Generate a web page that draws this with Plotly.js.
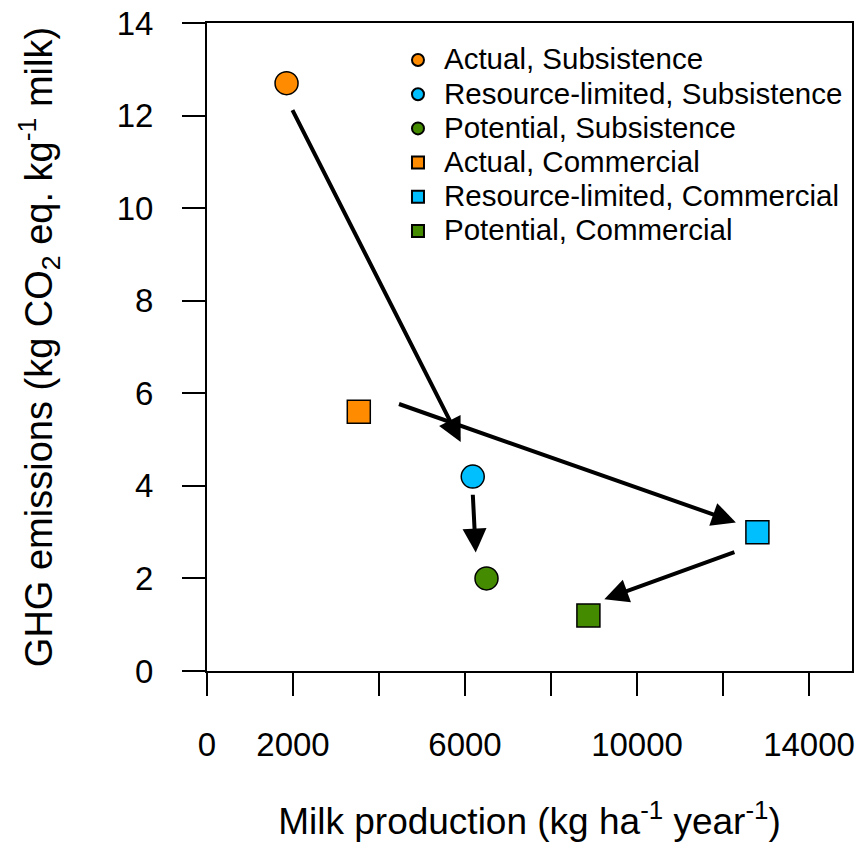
<!DOCTYPE html>
<html><head><meta charset="utf-8">
<script src="https://cdn.plot.ly/plotly-3.0.1.min.js"></script>
<style>html,body{margin:0;padding:0;background:#fff}#chart{width:867px;height:845px}</style>
</head><body><div id="chart"></div>
<script>
const seriesNames = ['Actual, Subsistence','Resource-limited, Subsistence','Potential, Subsistence',
  'Actual, Commercial','Resource-limited, Commercial','Potential, Commercial'];
const milkProduction = [1850, 6180, 6500, 3530, 12800, 8870];
const ghgEmissions = [12.7, 4.2, 2.0, 5.6, 3.0, 1.2];
const markerSymbols = ['circle','circle','circle','square','square','square'];
const markerColors = ['#FF8C00','#00BFFF','#458B00','#FF8C00','#00BFFF','#458B00'];
const arrowFromX = [1970, 4430, 6180, 12300];
const arrowFromY = [12.15, 5.78, 3.84, 2.58];
const arrowToX = [5900, 12300, 6250, 9240];
const arrowToY = [4.95, 3.21, 2.56, 1.55];
const xTickVals = [0, 2000, 6000, 10000, 14000];
const xTickText = ['0', '2000', '6000', '10000', '14000'];
const xMinorTickVals = [4000, 8000, 12000];
const yTickVals = [0, 2, 4, 6, 8, 10, 12, 14];
const yTickText = ['0', '2', '4', '6', '8', '10', '12', '14'];

const FONT = 'Liberation Sans, Arial, Helvetica, sans-serif';

const traces = seriesNames.map((name, i) => ({
  type: 'scatter', mode: 'markers',
  x: [milkProduction[i]], y: [ghgEmissions[i]],
  name: '<span style="font-size:29.5px">' + name + '</span>',
  legendgroup: 'g' + i,
  marker: {symbol: markerSymbols[i], color: markerColors[i], size: 23, line: {color: '#000', width: 1.5}},
  hoverinfo: 'x+y'
}));

const annotations = arrowFromX.map((fx, i) => ({
  x: arrowToX[i], y: arrowToY[i], ax: fx, ay: arrowFromY[i],
  xref: 'x', yref: 'y', axref: 'x', ayref: 'y',
  text: '', showarrow: true, arrowhead: 2, arrowsize: 1.2, arrowwidth: 4, arrowcolor: '#000', standoff: 0
}));

const axisCommon = {
  showline: true, linecolor: '#000', linewidth: 2, mirror: true,
  ticks: 'outside', ticklen: 23, tickwidth: 2, tickcolor: '#000',
  showgrid: false, zeroline: false, automargin: false,
  tickfont: {family: FONT, size: 33, color: '#000'}
};

const layout = {
  width: 867, height: 845,
  margin: {l: 207, r: 15, t: 23, b: 174},
  paper_bgcolor: '#fff', plot_bgcolor: '#fff',
  font: {family: FONT, color: '#000'},
  showlegend: true,
  legend: {x: 0.2868, y: 0.977, xanchor: 'left', yanchor: 'top', bgcolor: 'rgba(0,0,0,0)', itemwidth: 42,
    font: {family: FONT, size: 24, color: '#000'}, itemsizing: 'constant', traceorder: 'normal'},
  xaxis: Object.assign({}, axisCommon, {
    range: [0, 15000], tickmode: 'array', tickvals: xTickVals, ticktext: xTickText,
    minor: {tickvals: xMinorTickVals, ticks: 'outside', ticklen: 23, tickwidth: 2, tickcolor: '#000', showgrid: false},
    ticklabelstandoff: 20,
    title: {text: 'Milk production (kg ha<sup>-1</sup> year<sup>-1</sup>)', font: {family: FONT, size: 37, color: '#000'}, standoff: 47}
  }),
  yaxis: Object.assign({}, axisCommon, {
    range: [0, 14], tickmode: 'array', tickvals: yTickVals, ticktext: yTickText,
    ticklabelstandoff: 22,
    title: {text: 'GHG emissions (kg CO<sub>2</sub> eq. kg<sup>-1</sup> milk)', font: {family: FONT, size: 38, color: '#000'}, standoff: 52}
  }),
  annotations: annotations
};

Plotly.newPlot('chart', traces, layout, {displayModeBar: false, staticPlot: true});
</script>
</body></html>
